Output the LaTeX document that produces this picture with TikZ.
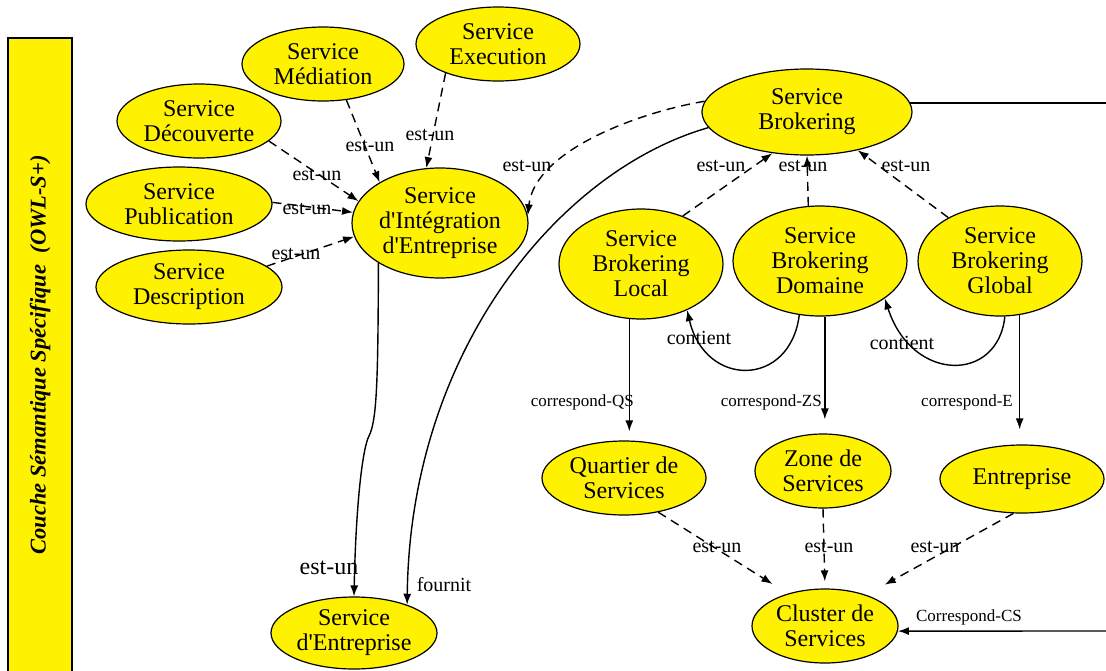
\documentclass[tikz,border=0pt]{standalone}
\usepackage{fontspec}
\setmainfont{Liberation Serif}
\newfontfamily\tnr{Liberation Serif}
\usetikzlibrary{shapes.geometric,arrows.meta}
\begin{document}
\begin{tikzpicture}[x=1pt,y=-1pt,
  svc/.style={ellipse, draw, fill=yellow, line width=1.2pt, inner sep=0pt, align=center, font=\tnr\fontsize{24}{25}\selectfont},
  lbl/.style={inner sep=0pt, font=\tnr\fontsize{20}{20}\selectfont},
  slbl/.style={inner sep=0pt, font=\tnr\fontsize{17}{17}\selectfont},
  dasharrow/.style={line width=1.4pt, dash pattern=on 9pt off 6pt, -{Latex[length=11pt,width=8pt]}},
  solidarrow/.style={line width=1.4pt, -{Latex[length=11pt,width=8pt]}},
  solidline/.style={line width=1.6pt}
]
\useasboundingbox (0,0) rectangle (1106,670);
\draw[fill=yellow, line width=1.3pt] (8,38) rectangle (72,675);
\node[rotate=90, font=\tnr\fontsize{22.5}{22.5}\selectfont\bfseries\itshape] (bartext) at (40,355) {Couche Sémantique Spécifique\ \ (OWL-S+)};

\node[svc, minimum width=162pt, minimum height=74pt] (med) at (323,64) {Service\\Médiation};
\node[svc, minimum width=164pt, minimum height=74pt] (exe) at (498,44) {Service\\Execution};
\node[svc, minimum width=164pt, minimum height=74pt] (dec) at (199,121) {Service\\Découverte};
\node[svc, minimum width=186pt, minimum height=74pt] (pub) at (179,204) {Service\\Publication};
\node[svc, minimum width=186pt, minimum height=74pt] (des) at (189,287) {Service\\Description};
\node[svc, minimum width=176pt, minimum height=110pt] (integ) at (440,223) {Service\\d'Intégration\\d'Entreprise};
\node[svc, minimum width=210pt, minimum height=86pt] (brok) at (807,112) {Service\\Brokering};
\node[svc, minimum width=164pt, minimum height=110pt] (sbl) at (641,264) {Service\\Brokering\\Local};
\node[svc, minimum width=174pt, minimum height=110pt] (sbd) at (820,261) {Service\\Brokering\\Domaine};
\node[svc, minimum width=164pt, minimum height=110pt] (sbg) at (1000,261) {Service\\Brokering\\Global};
\node[svc, minimum width=164pt, minimum height=74pt] (qua) at (624,478) {Quartier de\\Services};
\node[svc, minimum width=136pt, minimum height=74pt] (zon) at (823,471) {Zone de\\Services};
\node[svc, minimum width=164pt, minimum height=68pt] (ent) at (1022,479) {Entreprise};
\node[svc, minimum width=146pt, minimum height=74pt] (clu) at (825,626) {Cluster de\\Services};
\node[svc, minimum width=166pt, minimum height=72pt] (sent) at (354,633) {Service\\d'Entreprise};

\coordinate (edgeTop) at (1106,102);
\coordinate (edgeBot) at (1106,631);

% est-un towards integration service
\draw[dasharrow] (dec.-16.8) -- (integ.165.6);
\draw[dasharrow] (pub.1.2) -- (integ.173.4);
\draw[dasharrow] (des.15.2) -- (integ.189.2);
\draw[dasharrow] (med.-57.8) -- (integ.146.1);
\draw[dasharrow] (exe.209.9) -- (integ.104.5);
\draw[dasharrow] (brok.174.6) .. controls (640,112) and (535,150) .. (integ.5.3);

% solid connectors to Service d'Entreprise
\draw[solidarrow] (brok.189) .. controls (560,170) and (410,350) .. (sent.28.2);
\draw[solidarrow] (integ.213.3) .. controls (378,380) and (377,420) .. (369,436) .. controls (363,447) and (356,500) .. (sent.north);

% brokering hierarchy
\draw[dasharrow] (sbl.49) -- (brok.230.3);
\draw[dasharrow] (sbd.102.5) -- (brok.south);
\draw[dasharrow] (sbg.140.4) -- (brok.-37.2);

% contient loops
\draw[solidarrow] (sbd.249.2) .. controls (790,388) and (705,388) .. (sbl.-45);
\draw[solidarrow] (sbg.275.1) .. controls (998,383) and (912,383) .. (sbd.-30.8);

% correspond
\draw[solidarrow, shorten >=9pt] (sbl.258.6) -- (sbl.258.6 |- qua.north);
\draw[solidarrow, shorten >=14pt] (sbd.275.2) -- (sbd.275.2 |- zon.north);
\draw[solidarrow, shorten >=15pt] (sbg.290.6) -- (sbg.290.6 |- ent.north);

% est-un towards cluster
\draw[dasharrow, shorten >=18pt] (qua.-45) -- (clu.139.8);
\draw[dasharrow, shorten >=7pt] (zon.south) -- (clu.north);
\draw[dasharrow, shorten >=21pt] (ent.256.8) -- (clu.37.2);

% right edge connectors
\draw[solidline] (brok.5.4) -- (brok.5.4 -| edgeTop);
\draw[solidarrow] (edgeBot) -- (clu.-4);

% labels
\node[lbl] (l1) at (317,175) {est-un};
\node[lbl] (l2) at (307,209) {est-un};
\node[lbl] (l3) at (296,254) {est-un};
\node[lbl] (l4) at (370,146) {est-un};
\node[lbl] (l5) at (430,135) {est-un};
\node[lbl] (l6) at (527,166) {est-un};
\node[lbl] (l7) at (721,166) {est-un};
\node[lbl] (l8) at (803,166) {est-un};
\node[lbl] (l9) at (906,166) {est-un};
\node[inner sep=0pt, font=\tnr\fontsize{24}{24}\selectfont] (l10) at (329,568) {est-un};
\node[lbl] (l11) at (444,585) {fournit};
\node[lbl] (l12) at (717,547) {est-un};
\node[lbl] (l13) at (829,547) {est-un};
\node[lbl] (l14) at (935,547) {est-un};
\node[lbl] (l15) at (699,338) {contient};
\node[lbl] (l16) at (902,343) {contient};
\node[slbl, anchor=east] (l17) at (634,402) {correspond-QS};
\node[slbl, anchor=east] (l18) at (822,402) {correspond-ZS};
\node[slbl, anchor=east] (l19) at (1013,402) {correspond-E};
\node[slbl] (l20) at (969,617) {Correspond-CS};
\end{tikzpicture}
\end{document}
